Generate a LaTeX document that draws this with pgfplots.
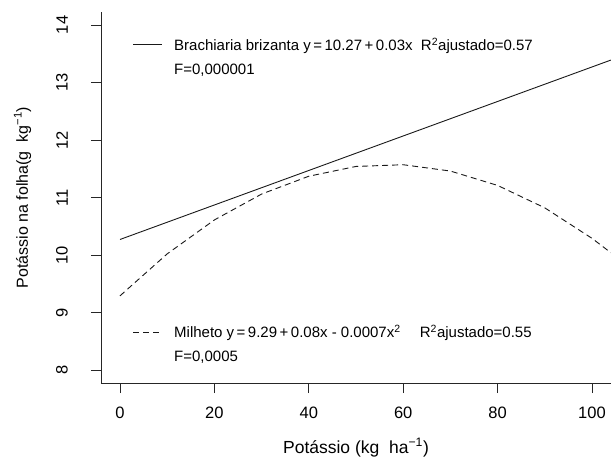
\documentclass[border=0pt]{standalone}
\usepackage{pgfplots}
\pgfplotsset{compat=1.18}
\usepackage{fontspec}
\setmainfont{Liberation Sans}

\begin{document}
\begin{tikzpicture}[x=1pt,y=1pt]
\path[use as bounding box] (-101,-75) rectangle (510,383);
\begin{axis}[
  at={(0,0)}, anchor=south west,
  scale only axis, width=510pt, height=371pt,
  xmin=-4.03, xmax=104.03, ymin=7.774, ymax=14.226,
  axis lines=left,
  axis line style={-, line width=0.8pt, black!85},
  xtick={0,20,...,100}, ytick={8,...,14},
  tick align=outside, major tick length=10pt,
  tick style={black!85, line width=0.8pt},
  ticklabel style={font=\fontsize{16.5}{16.5}\selectfont, inner sep=0pt},
  xticklabel style={anchor=north, yshift=-14pt},
  yticklabel style={rotate=90, anchor=south, yshift=23pt},
  /pgf/number format/assume math mode=true,
  xlabel={Potássio (kg\ \ ha\textsuperscript{−1})},
  ylabel={Potássio na folha(g\ \ kg\textsuperscript{−1})},
  x label style={at={(axis description cs:0.5,0)}, anchor=base, yshift=-70pt, font=\fontsize{17.5}{17.5}\selectfont},
  y label style={at={(axis description cs:0,0.5)}, anchor=base, yshift=73pt, font=\fontsize{16}{16}\selectfont},
  clip=true,
]
% Brachiaria brizanta (solid)
\addplot[black!90, line width=0.9pt] coordinates {
  (0,10.27)(20,10.87)(40,11.47)(60,12.07)(80,12.67)(100,13.27)(104,13.39)
};
% Milheto (dashed)
\addplot[black!90, line width=0.9pt, dash pattern=on 6pt off 4pt] coordinates {
  (0,9.29)(10,10.02)(20,10.61)(30,11.06)(40,11.37)(50,11.54)(60,11.57)
  (70,11.46)(80,11.21)(90,10.82)(100,10.29)(104,10.04)
};
\end{axis}
% legend samples and texts
\draw[black!90, line width=0.9pt] (32,339) -- (61,339);
\node[anchor=base west, inner sep=0pt, font=\fontsize{15}{15}\selectfont] at (73,332)
  {Brachiaria brizanta y\,=\,10.27\,+\,0.03x\ \ R\textsuperscript{2}ajustado=0.57};
\node[anchor=base west, inner sep=0pt, font=\fontsize{15}{15}\selectfont] at (73,308) {F=0,000001};
\draw[black!90, line width=0.9pt, dash pattern=on 6pt off 4pt] (32,51) -- (59,51);
\node[anchor=base west, inner sep=0pt, font=\fontsize{15}{15}\selectfont] at (73,45)
  {Milheto y\,=\,9.29\,+\,0.08x - 0.0007x\textsuperscript{2}\quad\ R\textsuperscript{2}ajustado=0.55};
\node[anchor=base west, inner sep=0pt, font=\fontsize{15}{15}\selectfont] at (73,21) {F=0,0005};
\end{tikzpicture}
\end{document}
